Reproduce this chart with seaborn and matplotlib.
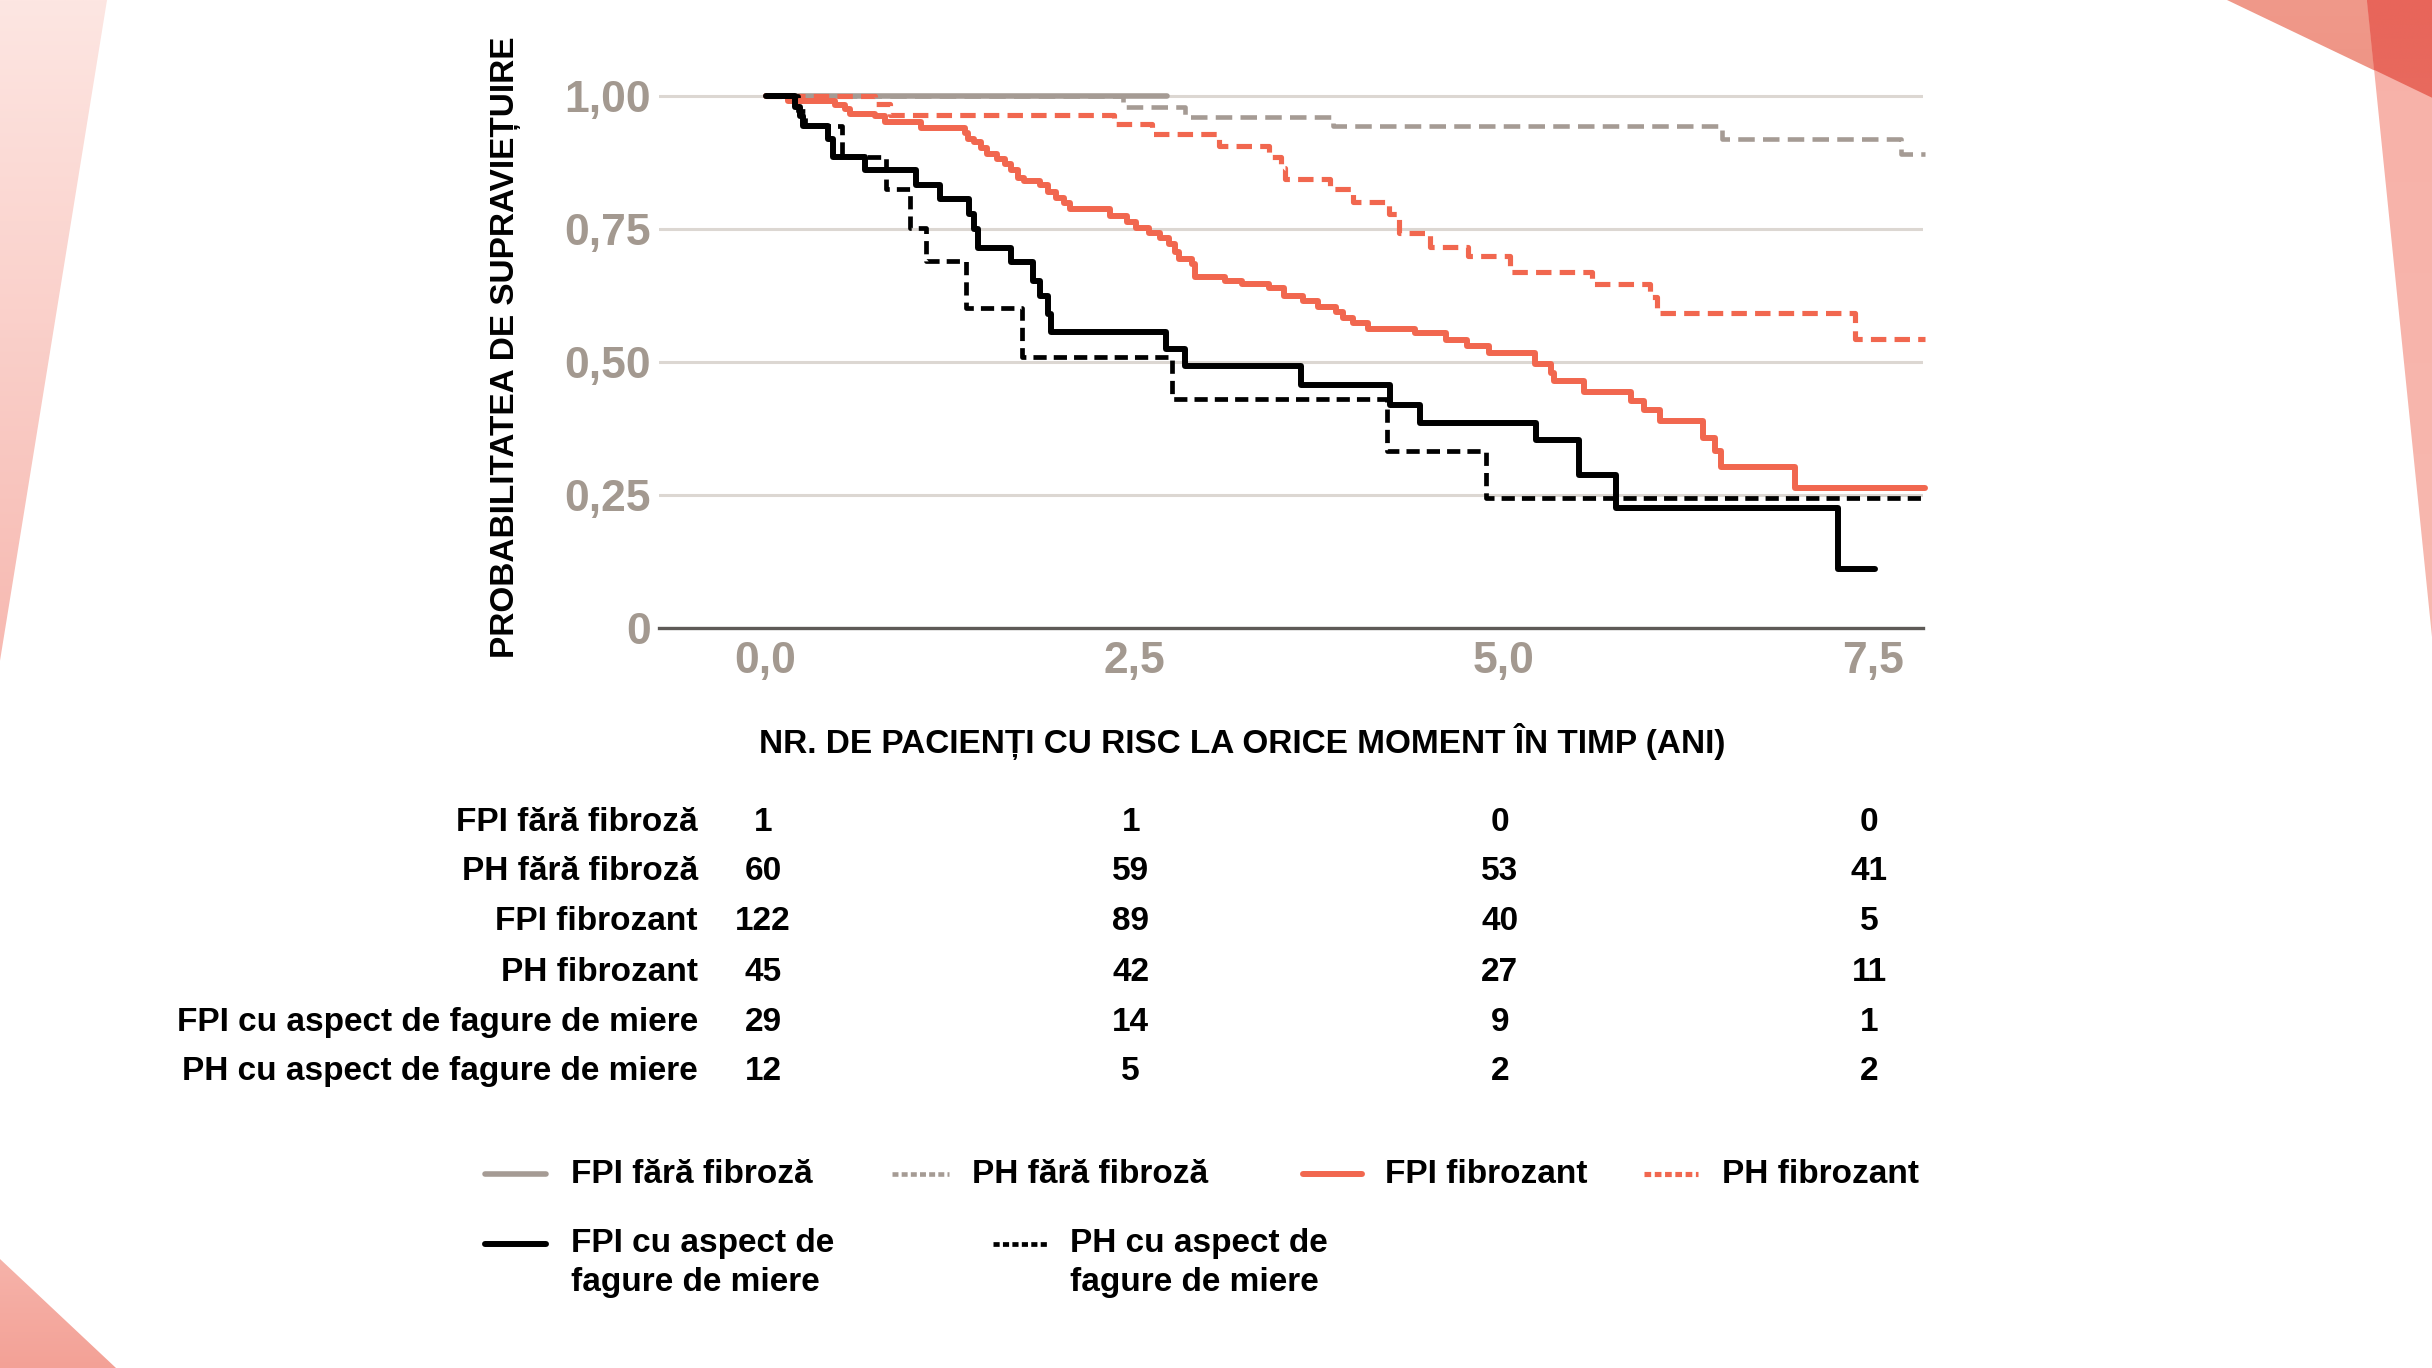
import numpy as np
import pandas as pd
import matplotlib
matplotlib.use("Agg")
import matplotlib.pyplot as plt
import matplotlib.transforms as mtransforms
from matplotlib.lines import Line2D
from matplotlib.patches import Polygon
from matplotlib.colors import LinearSegmentedColormap
import seaborn as sns

# --- Kaplan-Meier curves (time in years, survival) ---
fpi_nofib_t = [0.0]
fpi_nofib_s = [1.0]
fpi_nofib_end = 2.72

ph_nofib_t = [0.0, 2.42, 2.84, 3.84, 6.48, 7.69]
ph_nofib_s = [1.0, 0.979, 0.960, 0.943, 0.919, 0.892]
ph_nofib_end = 7.85

fpi_fib_t = [0.0, 0.15, 0.47, 0.54, 0.57, 0.74, 0.81, 1.05, 1.35, 1.37,
             1.41, 1.46, 1.50, 1.57, 1.62, 1.66, 1.71, 1.75, 1.86, 1.91,
             1.97, 2.02, 2.06, 2.33, 2.45, 2.51, 2.60, 2.67, 2.73, 2.77,
             2.80, 2.89, 2.91, 3.11, 3.23, 3.41, 3.51, 3.64, 3.74, 3.86,
             3.91, 3.98, 4.08, 4.40, 4.61, 4.75, 4.90, 5.21, 5.32, 5.34,
             5.54, 5.86, 5.95, 6.06, 6.35, 6.43, 6.47, 6.97]
fpi_fib_s = [1.0, 0.99, 0.983, 0.976, 0.967, 0.962, 0.951, 0.941, 0.931, 0.920,
             0.913, 0.903, 0.892, 0.882, 0.872, 0.861, 0.847, 0.840, 0.833, 0.819,
             0.809, 0.799, 0.788, 0.775, 0.764, 0.753, 0.743, 0.733, 0.722, 0.708,
             0.694, 0.684, 0.660, 0.653, 0.646, 0.639, 0.625, 0.615, 0.604, 0.594,
             0.583, 0.573, 0.563, 0.554, 0.542, 0.531, 0.517, 0.497, 0.479, 0.465,
             0.444, 0.427, 0.410, 0.389, 0.358, 0.333, 0.302, 0.264]
fpi_fib_end = 7.85

ph_fib_t = [0.0, 0.74, 0.84, 2.36, 2.62, 3.07, 3.41, 3.49, 3.52, 3.82,
            3.98, 4.22, 4.29, 4.50, 4.76, 5.04, 5.60, 5.99, 6.04, 7.38]
ph_fib_s = [1.0, 0.985, 0.964, 0.948, 0.929, 0.906, 0.885, 0.865, 0.844, 0.825,
            0.801, 0.778, 0.743, 0.717, 0.699, 0.670, 0.646, 0.622, 0.592, 0.543]
ph_fib_end = 7.85

fpi_honey_t = [0.0, 0.20, 0.235, 0.257, 0.425, 0.459, 0.672, 1.02, 1.18, 1.38,
               1.41, 1.44, 1.66, 1.81, 1.86, 1.91, 1.93, 2.715, 2.839, 3.625,
               4.23, 4.43, 5.22, 5.51, 5.76, 7.26]
fpi_honey_s = [1.0, 0.979, 0.962, 0.944, 0.920, 0.885, 0.861, 0.833, 0.806, 0.778,
               0.750, 0.715, 0.688, 0.653, 0.625, 0.590, 0.557, 0.524, 0.493, 0.458,
               0.420, 0.385, 0.354, 0.288, 0.226, 0.111]
fpi_honey_end = 7.51

ph_honey_t = [0.0, 0.22, 0.27, 0.515, 0.818, 0.976, 1.088, 1.357, 1.739, 2.75, 4.21, 4.88]
ph_honey_s = [1.0, 0.972, 0.944, 0.885, 0.826, 0.753, 0.691, 0.601, 0.510, 0.431, 0.333, 0.244]
ph_honey_end = 7.85

# --- numbers at risk ---
risk_times = [0.0, 2.5, 5.0, 7.5]
risk_fpi_nofib = [1, 1, 0, 0]
risk_ph_nofib = [60, 59, 53, 41]
risk_fpi_fib = [122, 89, 40, 5]
risk_ph_fib = [45, 42, 27, 11]
risk_fpi_honey = [29, 14, 9, 1]
risk_ph_honey = [12, 5, 2, 2]

group_names = ["FPI fără fibroză", "PH fără fibroză", "FPI fibrozant",
               "PH fibrozant", "FPI cu aspect de fagure de miere",
               "PH cu aspect de fagure de miere"]

x_ticks = [0.0, 2.5, 5.0, 7.5]
x_ticklabels = ["0,0", "2,5", "5,0", "7,5"]
y_ticks = [0, 0.25, 0.5, 0.75, 1.0]
y_ticklabels = ["0", "0,25", "0,50", "0,75", "1,00"]

# --- styles ---
RED = "#F1674F"
GREY = "#A59B94"
TICK_GREY = "#A39990"
NARROW = ["Liberation Sans Narrow", "Liberation Sans", "DejaVu Sans"]
WIDE = ["Liberation Sans", "DejaVu Sans"]

sns.set_style("white")
plt.rcParams["font.family"] = NARROW
plt.rcParams["font.weight"] = "bold"

W, H = 1568, 882  # design grid of the reference
fig = plt.figure(figsize=(24.32, 13.68), dpi=100)

# decorative background shapes
bg = fig.add_axes([0, 0, 1, 1], zorder=-5)
bg.set_axis_off()


def grad_poly(pts, c_top, c_bot):
    poly = Polygon(pts, closed=True, facecolor="none", edgecolor="none")
    bg.add_patch(poly)
    xs = [p[0] for p in pts]
    ys = [p[1] for p in pts]
    cmap = LinearSegmentedColormap.from_list("g", [c_top, c_bot])
    im = bg.imshow(np.linspace(0, 1, 256)[:, None], cmap=cmap, aspect="auto",
                   extent=(min(xs), max(xs), max(ys), min(ys)), origin="upper")
    im.set_clip_path(poly)


grad_poly([(0, 0), (69, 0), (0, 426)], "#FDE6E2", "#F7B9B1")
grad_poly([(0, 812), (0, 882), (75, 882)], "#F6B3AA", "#F3A196")
grad_poly([(1436, 0), (1568, 0), (1568, 63)], "#F0998A", "#EE9384")
grad_poly([(1526, 0), (1568, 0), (1568, 411)], "#F7B1A8", "#F8B8AF")
grad_poly([(1526, 0), (1568, 0), (1568, 63), (1530.6, 45)], "#E8655A", "#E86A5E")
bg.set_xlim(0, W)
bg.set_ylim(H, 0)

# main axes
x0, x1 = -0.72, 7.84
y0, y1 = 0.0, 1.03
ax = fig.add_axes([425 / W, 1 - 405 / H, 815 / W, 1.03 * 343 / H])
ax.patch.set_alpha(0)

series = [
    (fpi_nofib_t, fpi_nofib_s, fpi_nofib_end, GREY, "-", 4.0),
    (ph_nofib_t, ph_nofib_s, ph_nofib_end, GREY, (0, (3.6, 1.8)), 3.3),
    (fpi_fib_t, fpi_fib_s, fpi_fib_end, RED, "-", 4.3),
    (ph_fib_t, ph_fib_s, ph_fib_end, RED, (0, (3.0, 1.6)), 3.7),
    (fpi_honey_t, fpi_honey_s, fpi_honey_end, "black", "-", 4.3),
    (ph_honey_t, ph_honey_s, ph_honey_end, "black", (0, (2.8, 1.5)), 3.4),
]

for t, s, end, col, ls, lw in series:
    df = pd.DataFrame({"t": list(t) + [end], "s": list(s) + [s[-1]]})
    sns.lineplot(data=df, x="t", y="s", ax=ax, color=col, linewidth=lw,
                 drawstyle="steps-post", estimator=None, sort=False)
    line = ax.lines[-1]
    line.set_linestyle(ls)
    line.set_clip_on(False)
    line.set_zorder(3)

ax.set_xlim(x0, x1)
ax.set_ylim(y0, y1)
ax.set_xticks(x_ticks)
ax.set_xticklabels(x_ticklabels)
ax.set_yticks(y_ticks)
ax.set_yticklabels(y_ticklabels)
for lab in ax.get_xticklabels() + ax.get_yticklabels():
    lab.set_family(WIDE)
    lab.set_fontweight("bold")
    lab.set_fontsize(32)
    lab.set_color(TICK_GREY)
ax.tick_params(axis="x", length=0, pad=9)
ax.tick_params(axis="y", length=0, pad=6)
ax.set_xlabel("")
ax.set_ylabel("")
for side in ["top", "right", "left"]:
    ax.spines[side].set_visible(False)
ax.spines["bottom"].set_color("#5E5A57")
ax.spines["bottom"].set_linewidth(2.4)
ax.grid(False)
for yv in y_ticks[1:]:
    ax.axhline(yv, color="#DCD7D2", linewidth=2.2, zorder=1)

fig.text(326 / W, 1 - 224 / H, "PROBABILITATEA DE SUPRAVIEȚUIRE", rotation=90,
         ha="center", va="center", fontsize=24, fontweight="bold", color="black")

# at-risk table
fig.text(801 / W, 1 - 478 / H, "NR. DE PACIENȚI CU RISC LA ORICE MOMENT ÎN TIMP (ANI)",
         ha="center", va="center", fontsize=24, fontweight="bold", color="black")
risk_rows = [risk_fpi_nofib, risk_ph_nofib, risk_fpi_fib, risk_ph_fib,
             risk_fpi_honey, risk_ph_honey]
row_y = [530, 562, 594, 627, 659, 691]
risk_x = [492, 729, 967, 1205]
for name, vals, yy in zip(group_names, risk_rows, row_y):
    fy = 1 - yy / H
    fig.text(450 / W, fy, name, ha="right", va="center", fontsize=24,
             fontweight="bold", color="black")
    for tx, v in zip(risk_x, vals):
        fig.text(tx / W, fy, str(v), ha="center", va="center",
                 fontsize=24, fontweight="bold", color="black")

# legend
legend_items = [
    (313, 352, 757, 368, ["FPI fără fibroză"], 0),
    (575, 612, 757, 627, ["PH fără fibroză"], 1),
    (840, 878, 757, 893, ["FPI fibrozant"], 2),
    (1060, 1095, 757, 1110, ["PH fibrozant"], 3),
    (313, 352, 802, 368, ["FPI cu aspect de", "fagure de miere"], 4),
    (640, 675, 802, 690, ["PH cu aspect de", "fagure de miere"], 5),
]
for xa, xb, yy, xt, lines, idx in legend_items:
    _, _, _, col, ls, lw = series[idx]
    if ls != "-":
        ls = (0, (1.3, 0.7))
    fig.add_artist(Line2D([xa / W, xb / W], [1 - yy / H, 1 - yy / H],
                          transform=fig.transFigure, color=col, linestyle=ls,
                          linewidth=lw))
    for k, txt in enumerate(lines):
        fig.text(xt / W, 1 - (yy + 25 * k) / H, txt, ha="left", va="center",
                 fontsize=24, fontweight="bold", color="black")

fig.savefig("out.png", dpi=100)
